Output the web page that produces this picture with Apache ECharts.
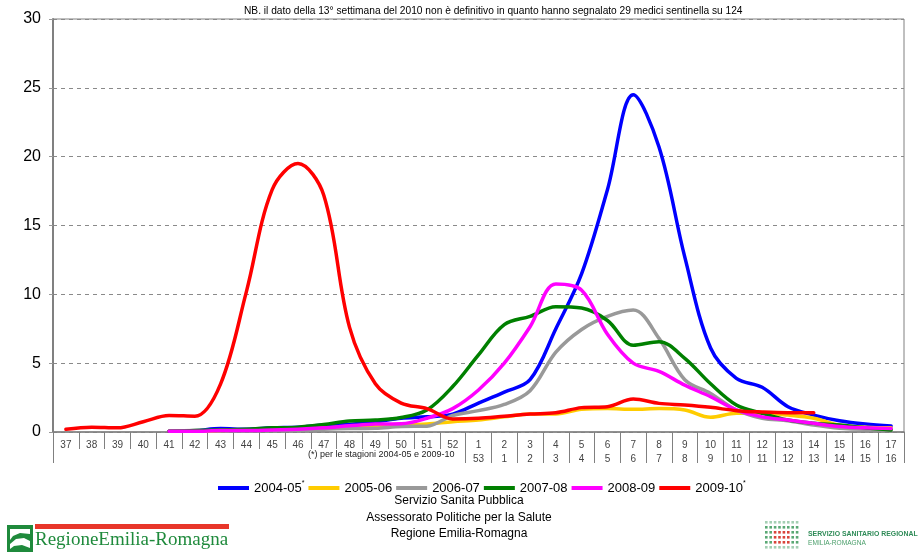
<!DOCTYPE html>
<html>
<head>
<meta charset="utf-8">
<script src="https://cdn.jsdelivr.net/npm/echarts@6/dist/echarts.min.js"></script>
<style>html,body{margin:0;padding:0;background:#fff}#c{width:918px;height:552px}</style>
</head>
<body>
<div id="c"></div>
<script>
// week labels (top row) and secondary week numbering (bottom row)
var weeks = ['37','38','39','40','41','42','43','44','45','46','47','48','49','50','51','52',
             '1','2','3','4','5','6','7','8','9','10','11','12','13','14','15','16','17'];
var weeksAlt = ['','','','','','','','','','','','','','','','',
             '53','1','2','3','4','5','6','7','8','9','10','11','12','13','14','15','16'];
var seasonNames = ['2004-05','2005-06','2006-07','2007-08','2008-09','2009-10'];
var seasonStar = [true,false,false,false,false,true];
var seasonColors = ['#0000FF','#FFCC00','#999999','#008000','#FF00FF','#FF0000'];

var s2004_05 = [null,null,null,null,0.05,0.1,0.25,0.2,0.3,0.35,0.5,0.55,0.75,1.0,1.1,1.3,
  2.1,2.9,3.8,7.5,11.5,17.6,24.5,20.7,12.7,6.1,3.9,3.25,1.84,1.23,0.82,0.58,0.44];
var s2005_06 = [null,null,null,null,0.05,0.05,0.1,0.15,0.2,0.25,0.3,0.4,0.45,0.5,0.58,0.75,
  0.87,1.1,1.3,1.3,1.65,1.7,1.65,1.7,1.6,1.07,1.36,1.36,1.23,1.0,0.5,0.35,0.3];
var s2006_07 = [null,null,null,null,0.05,0.1,0.1,0.1,0.15,0.15,0.2,0.25,0.27,0.4,0.42,1.2,
  1.55,2.0,3.0,5.8,7.45,8.4,8.86,6.8,3.8,2.8,1.6,1.0,0.82,0.5,0.27,0.2,0.2];
var s2007_08 = [null,null,null,null,0.05,0.1,0.15,0.2,0.3,0.35,0.55,0.8,0.87,1.05,1.6,3.3,
  5.6,7.8,8.4,9.1,9.0,8.1,6.3,6.56,5.35,3.5,1.96,1.36,0.87,0.63,0.5,0.3,0.15];
var s2008_09 = [null,null,null,null,0.05,0.05,0.1,0.1,0.15,0.2,0.3,0.45,0.58,0.6,1.0,1.7,
  3.05,5.0,7.65,10.75,10.3,7.1,5.0,4.4,3.4,2.56,1.6,1.1,0.87,0.63,0.4,0.3,0.25];
var s2009_10 = [0.2,0.35,0.3,0.75,1.2,1.15,3.5,10.2,17.6,19.5,17.2,7.6,3.5,2.1,1.7,0.95,
  1.0,1.15,1.3,1.4,1.77,1.84,2.4,2.08,1.96,1.79,1.55,1.45,1.4,1.4,null,null,null];
var seasonData = [s2004_05,s2005_06,s2006_07,s2007_08,s2008_09,s2009_10];

var yTicks = {min:0, max:30, interval:5};

var note = 'NB. il dato della 13° settimana del 2010 non è definitivo in quanto hanno segnalato 29 medici sentinella su 124';
var footnote = '(*) per le stagioni 2004-05 e 2009-10';
var footer = ['Servizio Sanita Pubblica','Assessorato Politiche per la Salute','Regione Emilia-Romagna'];

var chart = echarts.init(document.getElementById('c'), null, {renderer:'canvas'});
var FONT = '"Liberation Sans", Arial, sans-serif';

var series = seasonNames.map(function(n,i){
  return {
    name:n, type:'line', data:seasonData[i], smooth:0.35, symbol:'none',
    connectNulls:false, xAxisIndex:0, yAxisIndex:0,
    lineStyle:{width:3.5, color:seasonColors[i], cap:'round', join:'round'},
    itemStyle:{color:seasonColors[i]}, z:2+i
  };
});

var graphics = [
  {type:'text', left:244, top:6, style:{text:note, font:'10.2px "Liberation Sans Narrow", "Liberation Sans", Arial', fill:'#000'}},
  {type:'text', left:308, top:450, style:{text:footnote, font:'9px '+FONT, fill:'#222'}},
  {type:'text', left:'center', top:493, style:{text:footer.join('\n'), font:'12px '+FONT, fill:'#000', textAlign:'center', lineHeight:16.3}},
  // Regione Emilia-Romagna logo
  {type:'rect', shape:{x:7,y:525,width:26,height:27}, style:{fill:'#1f8a3c'}},
  {type:'polygon', shape:{points:[[10,529],[30,529],[30,534],[20,533],[13,536],[10,540]]}, style:{fill:'#ffffff'}},
  {type:'polygon', shape:{points:[[10,544],[16,539],[24,538],[30,541],[30,548],[22,545],[14,546],[10,549]]}, style:{fill:'#ffffff'}},
  {type:'rect', shape:{x:35,y:524,width:194,height:5}, style:{fill:'#e8362a'}},
  {type:'text', left:35, top:531, style:{text:'RegioneEmilia-Romagna', font:'19px "Liberation Serif", "DejaVu Serif", serif', fill:'#1f8a3c'}},
  // Servizio Sanitario Regionale logo
  {type:'text', left:808, top:531, style:{text:'SERVIZIO SANITARIO REGIONAL', font:'bold 6.9px '+FONT, fill:'#2e8b57'}},
  {type:'text', left:808, top:540, style:{text:'EMILIA-ROMAGNA', font:'6.6px '+FONT, fill:'#4a9e6a'}}
];
// dot grid of the SSR logo
for (var r=0;r<6;r++){ for (var c=0;c<8;c++){
  var red = (r>=2 && r<=4 && c>=2 && c<=5);
  graphics.push({type:'rect', shape:{x:765+c*4.4, y:521+r*5, width:2.6, height:2.6},
    style:{fill: red ? '#d9443a' : '#5aa874', opacity: (r==0||r==5)?0.55:1}});
}}

var option = {
  animation:false,
  backgroundColor:'#fff',
  textStyle:{fontFamily:FONT},
  grid:{left:53, right:14, top:19, bottom:120, show:true, borderColor:'#808080', borderWidth:1, backgroundColor:'transparent'},
  legend:{
    data:seasonNames, left:213, top:475, icon:'rect', itemWidth:31, itemHeight:4, itemGap:4,
    textStyle:{fontSize:13, color:'#000', fontFamily:FONT,
      rich:{s:{fontSize:7, color:'#000', padding:[0,0,9,0]}, t:{fontSize:13, color:'#000'}}},
    formatter:function(n){ var i=seasonNames.indexOf(n); return '{t|'+n+'}'+(seasonStar[i]?'{s|*}':''); }
  },
  xAxis:[
    {type:'category', data:weeks, boundaryGap:true, position:'bottom',
     axisLine:{lineStyle:{color:'#808080', width:1.5}},
     axisTick:{show:true, interval:0, length:17, lineStyle:{color:'#808080', width:1}},
     axisLabel:{interval:0, margin:6, color:'#444', fontSize:10, lineHeight:14,
       formatter:function(v,i){ return weeksAlt[i] ? v+'\n'+weeksAlt[i] : v; }},
     splitLine:{show:false}},
    {type:'category', data:weeks, boundaryGap:true, position:'bottom', offset:14,
     axisLine:{show:false},
     axisTick:{show:true, length:17, lineStyle:{color:'#808080', width:1},
       interval:function(i){ return i===0 || i>=16; }},
     axisLabel:{show:false}, splitLine:{show:false}}
  ],
  yAxis:{type:'value', min:yTicks.min, max:yTicks.max, interval:yTicks.interval,
    axisLine:{show:true, lineStyle:{color:'#808080', width:2}},
    axisTick:{show:true, length:5, lineStyle:{color:'#999', type:'dashed'}},
    axisLabel:{color:'#000', fontSize:16, margin:12},
    splitLine:{show:true, lineStyle:{color:'#8a8a8a', type:[4,4], width:1}}},
  series:series,
  graphic:graphics
};
chart.setOption(option);
</script>
</body>
</html>
